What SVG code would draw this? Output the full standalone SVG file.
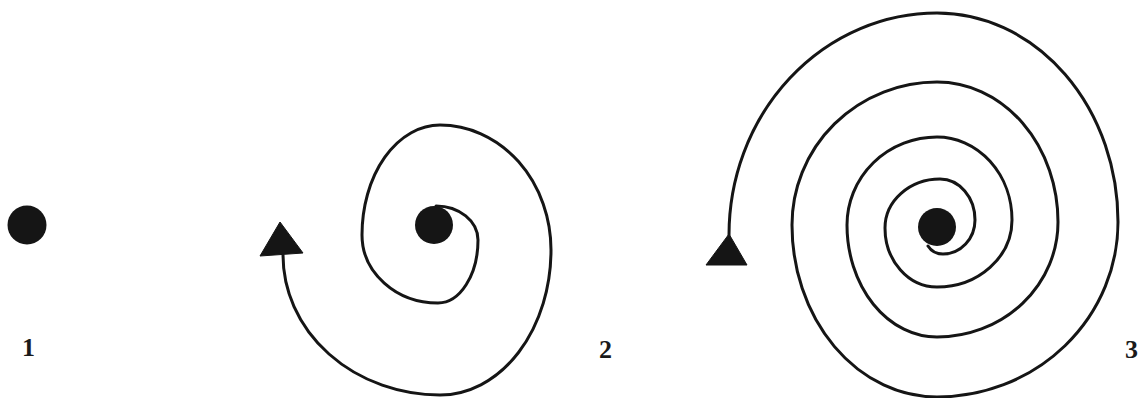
<svg xmlns="http://www.w3.org/2000/svg" width="1140" height="398" viewBox="0 0 1140 398">
<style>
.dot{fill:#151515}
.sp{fill:none;stroke:#151515;stroke-width:3;stroke-linecap:round}
.tri{fill:#151515;stroke:#151515;stroke-width:1}
.lbl{font-family:"Liberation Serif",serif;font-size:26px;font-weight:bold;fill:#1a1a1a}
</style>
<rect width="1140" height="398" fill="#ffffff"/>
<g id="fig1">
<circle class="dot" cx="27" cy="225" r="19.5"/>
<text class="lbl" x="22" y="356">1</text>
</g>
<g id="fig2">
<circle class="dot" cx="434" cy="225" r="19"/>
<polygon class="tri" points="280,222 260,256 303,253"/>
<text class="lbl" x="599" y="358">2</text>
</g>
<g id="fig3">
<circle class="dot" cx="937" cy="227" r="19"/>
<polygon class="tri" points="729,234 706,265 747,265"/>
<text class="lbl" x="1125" y="358">3</text>
</g>
<g id="connectors">
<path class="sp" d="M436,206 A42,34 0 0 1 478,240 A40,63 0 0 1 438,303 A76,68 0 0 1 362,235 A78,110 0 0 1 440,125 A111,125 0 0 1 551,250 A111,145 0 0 1 440,395 A157,140 0 0 1 283,255"/>
<path class="sp" d="M928,246 Q933,254 943,254 A32,34 0 0 0 975,220 A35,41 0 0 0 940,179 A55,49 0 0 0 885,228 A52,59 0 0 0 937,287 A75,67 0 0 0 1012,220 A75,83 0 0 0 937,137 A90,88 0 0 0 847,225 A90,112 0 0 0 937,337 A121,115 0 0 0 1058,222 A121,140 0 0 0 937,82 A145,143 0 0 0 792,225 A145,172 0 0 0 937,397 A181,175 0 0 0 1118,222 A181,209 0 0 0 937,13 A208,222 0 0 0 729,235"/>
</g>
</svg>
